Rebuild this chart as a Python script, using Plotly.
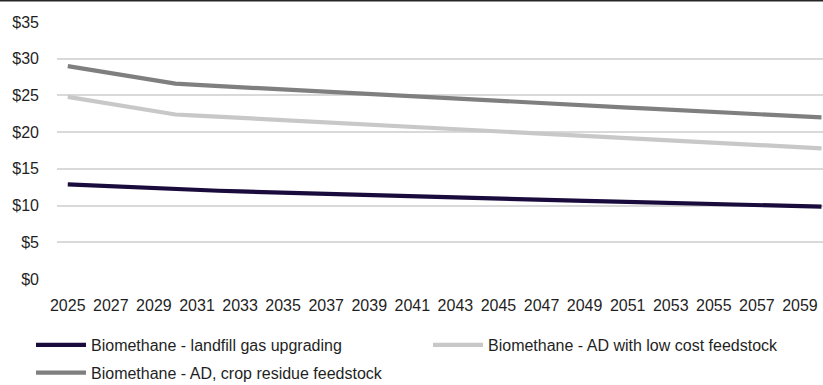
import plotly.graph_objects as go

years = list(range(2025, 2061))

landfill_gas = [12.90, 12.76, 12.62, 12.48, 12.34, 12.20, 12.11, 12.02, 11.93, 11.84,
                11.75, 11.66, 11.57, 11.48, 11.39, 11.30, 11.21, 11.12, 11.05, 10.98,
                10.91, 10.84, 10.77, 10.70, 10.63, 10.56, 10.49, 10.42, 10.35, 10.28,
                10.21, 10.14, 10.07, 10.00, 9.93, 9.86]

ad_low_cost = [24.80, 24.32, 23.84, 23.36, 22.88, 22.40, 22.25, 22.10, 21.95, 21.80,
               21.65, 21.50, 21.35, 21.20, 21.04, 20.88, 20.72, 20.56, 20.40, 20.24,
               20.08, 19.92, 19.76, 19.60, 19.45, 19.30, 19.15, 19.00, 18.85, 18.70,
               18.55, 18.40, 18.25, 18.10, 17.95, 17.80]

ad_crop_residue = [29.00, 28.52, 28.04, 27.56, 27.08, 26.60, 26.43, 26.27, 26.10, 25.93,
                   25.77, 25.60, 25.45, 25.30, 25.15, 25.00, 24.85, 24.70, 24.55, 24.40,
                   24.25, 24.10, 23.95, 23.80, 23.65, 23.50, 23.35, 23.20, 23.05, 22.90,
                   22.75, 22.60, 22.45, 22.30, 22.15, 22.00]

series_names = [
    "Biomethane - landfill gas upgrading",
    "Biomethane - AD with low cost feedstock",
    "Biomethane - AD, crop residue feedstock",
]
series_values = [landfill_gas, ad_low_cost, ad_crop_residue]
series_colors = ["#1A0B3D", "#C8C8C8", "#7F7F7F"]
# left legend column holds entries 1 and 3, right column holds entry 2
series_legends = ["legend", "legend2", "legend"]

FONT = "Liberation Sans, Arial, sans-serif"
FONT_SIZE = 16
TEXT_COLOR = "#1F1F1F"

PLOT_LEFT, PLOT_WIDTH = 57, 766
LEGEND_TOP = 328

fig = go.Figure()
for i, (name, vals, color, lg) in enumerate(
        zip(series_names, series_values, series_colors, series_legends)):
    fig.add_trace(go.Scatter(
        x=years, y=vals, name=name, mode="lines",
        line=dict(color=color, width=4.2),
        legend=lg, legendgroup=f"g{i}",
    ))

legend_common = dict(
    orientation="v", xref="paper", yref="container",
    xanchor="left", yanchor="top", y=1 - LEGEND_TOP / 385,
    font=dict(family=FONT, size=FONT_SIZE, color=TEXT_COLOR),
    bgcolor="rgba(0,0,0,0)", itemwidth=50, tracegroupgap=4,
    traceorder="grouped",
)

fig.update_layout(
    width=823, height=385,
    margin=dict(l=PLOT_LEFT, r=0, t=22, b=105.5),
    paper_bgcolor="white", plot_bgcolor="white",
    font=dict(family=FONT, size=FONT_SIZE, color=TEXT_COLOR),
    showlegend=True,
    legend=dict(x=(31 - PLOT_LEFT) / PLOT_WIDTH, **legend_common),
    legend2=dict(x=(428 - PLOT_LEFT) / PLOT_WIDTH, **legend_common),
    xaxis=dict(
        range=[2024.5, 2060.07], tick0=2025, dtick=2, tickangle=0,
        showgrid=False, zeroline=False, showline=False, ticks="",
        ticklabelstandoff=15,
        tickfont=dict(family=FONT, size=FONT_SIZE, color=TEXT_COLOR),
    ),
    yaxis=dict(
        range=[0, 35], dtick=5, tickprefix="$",
        showgrid=True, gridcolor="#D9D9D9", gridwidth=1.5,
        zeroline=False, showline=False, ticks="",
        ticklabelstandoff=17,
        tickfont=dict(family=FONT, size=FONT_SIZE, color=TEXT_COLOR),
    ),
    shapes=[dict(
        type="line", xref="paper", yref="paper",
        x0=-0.1, x1=1.01, y0=1.0835, y1=1.0835,
        line=dict(color="#262626", width=2),
    )],
)

fig.write_html("out.html")
